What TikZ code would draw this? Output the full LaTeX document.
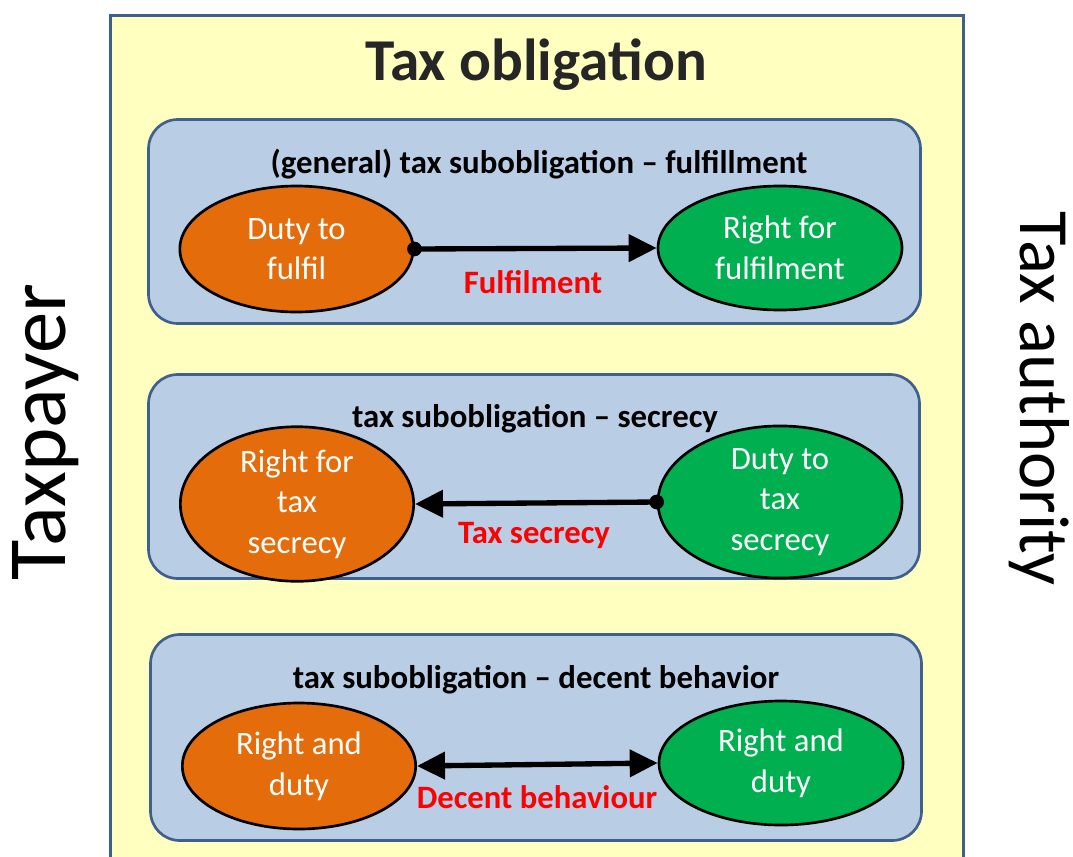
\documentclass[tikz,border=0pt]{standalone}
\usepackage{fontspec}
\setmainfont{Carlito}
\usetikzlibrary{shapes.geometric,arrows.meta}

\begin{document}
\begin{tikzpicture}[x=0.75pt, y=-0.75pt, >={Triangle[length=21pt, width=20pt]}]
    \definecolor{frameColour}{HTML}{3F5F8C}
    \definecolor{fillColourY}{HTML}{FFFFC0}
    \definecolor{fillColourB}{HTML}{B9CDE5}
    \definecolor{fillColourO}{HTML}{E46C0A}
    \definecolor{fillColourG}{HTML}{00B050}
    \definecolor{labelColour}{HTML}{FF0000}
    \definecolor{titleColour}{HTML}{262626}

    \tikzset{
        subbox/.style={draw=frameColour, fill=fillColourB, line width=2pt, rounded corners=22pt},
        party/.style={ellipse, draw=black, line width=2pt, inner sep=0pt, text=white, align=center,
            font=\fontsize{24.5}{30.5}\selectfont},
        payerSide/.style={party, fill=fillColourO, minimum width=175pt, minimum height=94.5pt},
        authSide/.style={party, fill=fillColourG, minimum width=183pt, minimum height=93pt},
        subtitle/.style={anchor=base, font=\bfseries\fontsize{24.6}{29}\selectfont},
        flowlabel/.style={anchor=base, text=labelColour, font=\bfseries\fontsize{24.5}{29}\selectfont},
        link/.style={line width=4pt}
    }

    % Page and outer frame
    \fill[white] (0,0) rectangle (1073,856);
    \useasboundingbox (0,0) rectangle (1073,856);
    \draw[draw=frameColour, fill=fillColourY, line width=2.25pt] (110,16) rectangle (963,880);

    \node[anchor=base, text=titleColour, font=\bfseries\fontsize{44.5}{52}\selectfont] (title) at (536,80) {Tax obligation};

    % Side labels
    \node[anchor=base, rotate=90, font=\fontsize{62}{70}\selectfont] (payer) at (65,432) {Taxpayer};
    \node[anchor=base, rotate=-90, font=\fontsize{53}{64}\selectfont] (authority) at (1020,399) {Tax authority};

    % Fulfilment
    \draw[subbox] (148.5,119.5) rectangle (920.5,323.5);
    \node[subtitle] (sub1) at (539,173) {(general) tax subobligation – fulfillment};
    \node[payerSide] (p1) at (296.5,249) {Duty to\\fulfil};
    \node[authSide] (a1) at (780,248) {Right for\\fulfilment};
    \draw[link, ->] (p1.east) -- (a1.west);
    \fill (p1.east) circle[radius=5.5pt];
    \node[flowlabel] (f1) at (533,293) {Fulfilment};

    % Secrecy
    \draw[subbox] (148.5,374.5) rectangle (919.5,578.5);
    \node[subtitle] (sub2) at (535,427) {tax subobligation – secrecy};
    \node[payerSide] (p2) at (297,504) {Right for\\tax\\secrecy};
    \node[authSide] (a2) at (780,502) {Duty to\\tax\\secrecy};
    \draw[link, ->] (a2.west) -- (p2.east);
    \fill (a2.west) circle[radius=5.5pt];
    \node[flowlabel] (f2) at (534,543) {Tax secrecy};

    % Decent behaviour
    \draw[subbox] (150.5,634.5) rectangle (921.5,840.5);
    \node[subtitle] (sub3) at (536,688) {tax subobligation – decent behavior};
    \node[payerSide] (p3) at (299,766) {Right and\\duty};
    \node[authSide] (a3) at (781,763) {Right and\\duty};
    \draw[link, <->] (p3.east) -- (a3.west);
    \node[flowlabel] (f3) at (537,808) {Decent behaviour};

\end{tikzpicture}
\end{document}
